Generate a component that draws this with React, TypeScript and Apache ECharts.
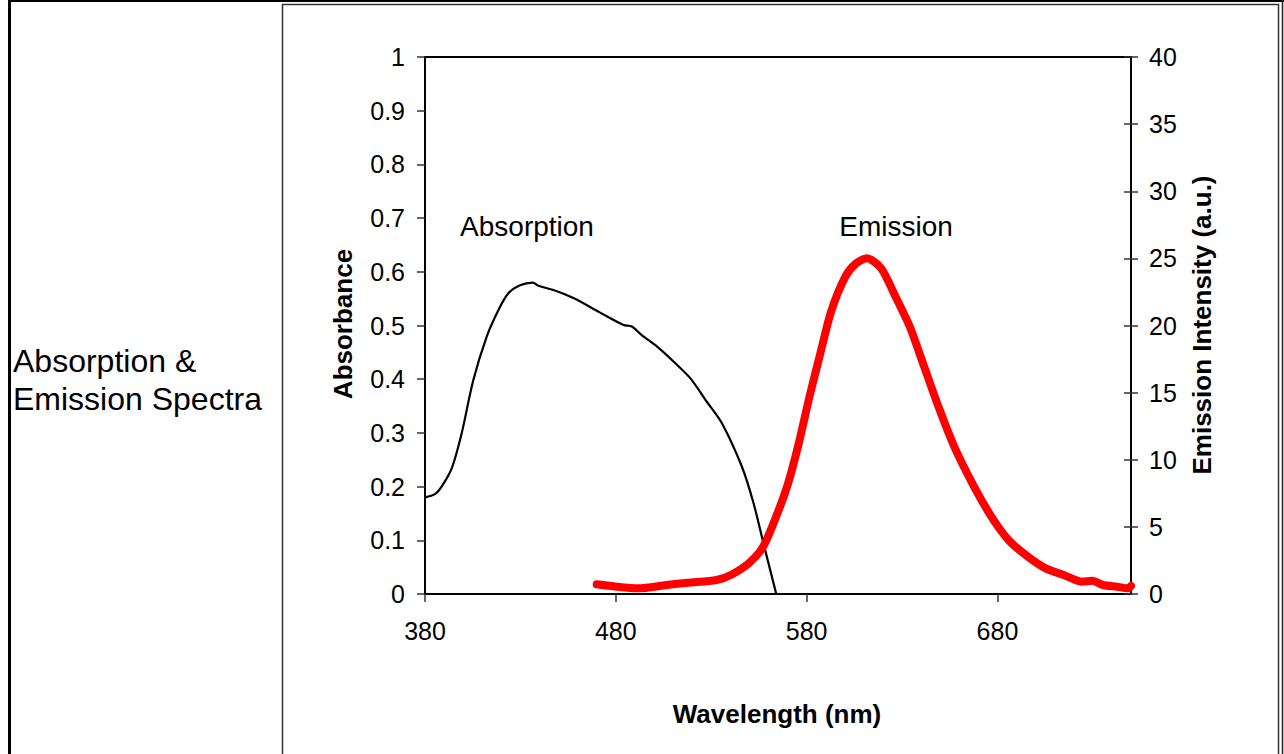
import React, { useEffect, useRef } from "react";
import * as echarts from "echarts";

const FONT = '"Liberation Sans", Arial, Helvetica, sans-serif';

// Absorption spectrum (left axis, absorbance)
const absWavelength = [380, 385.2, 388.7, 394, 399.2, 405.3, 412.3, 418.5, 423.7, 429.8, 436.5, 439.5, 447.3, 457.8, 471.8, 484, 488.4, 493.6, 501.5, 510.2, 519, 527.7, 535.6, 546.1, 552.2, 557.4, 564.1];
const absValues = [0.18, 0.186, 0.2, 0.234, 0.299, 0.398, 0.479, 0.529, 0.56, 0.575, 0.58, 0.574, 0.566, 0.551, 0.524, 0.501, 0.498, 0.482, 0.461, 0.433, 0.402, 0.358, 0.318, 0.237, 0.169, 0.094, 0.0];

// Emission spectrum (right axis, a.u.)
const emWavelength = [470, 480.3, 491.6, 506.6, 517.8, 532.8, 540.3, 549.7, 557.2, 564.7, 570.3, 575.9, 581.5, 587.2, 592.8, 600.3, 605.9, 611.6, 619.1, 626.6, 634.1, 641.6, 649.1, 656.6, 664.1, 671.6, 679.1, 686.6, 696, 705.3, 714.7, 724.1, 729.7, 735.3, 742.8, 748.4, 750];
const emValues = [0.72, 0.54, 0.42, 0.67, 0.84, 1.04, 1.42, 2.29, 3.52, 6.01, 8.25, 11.23, 14.7, 17.93, 21.03, 23.64, 24.63, 25.01, 24.26, 22.15, 19.91, 16.93, 13.95, 11.23, 8.99, 7.0, 5.27, 3.9, 2.78, 1.91, 1.42, 0.92, 0.99, 0.67, 0.54, 0.42, 0.6];

const xTicks = [380, 480, 580, 680];
const leftTitle = ["Absorption &", "Emission Spectra"];

export default function App() {
  const ref = useRef<HTMLDivElement>(null);

  useEffect(() => {
    const chart = echarts.init(ref.current!, null, { renderer: "svg" });
    const tickLabel = { color: "#000", fontSize: 25, fontFamily: FONT };
    const option: any = {
      animation: false,
      backgroundColor: "#fff",
      grid: { left: 425, top: 57, width: 706, height: 537, containLabel: false, show: true, borderColor: "#000", borderWidth: 2, backgroundColor: "transparent" },
      xAxis: {
        type: "value",
        min: 380,
        max: 750,
        interval: 100,
        axisLine: { show: true, lineStyle: { color: "#000", width: 2 } },
        axisTick: { show: true, inside: false, length: 8, customValues: xTicks, lineStyle: { color: "#333", width: 1.5 } },
        axisLabel: { ...tickLabel, margin: 24, customValues: xTicks },
        splitLine: { show: false },
      },
      yAxis: [
        {
          type: "value",
          position: "left",
          min: 0,
          max: 1,
          interval: 0.1,
          axisLine: { show: true, lineStyle: { color: "#000", width: 2 } },
          axisTick: { show: true, inside: false, length: 8, lineStyle: { color: "#333", width: 1.5 } },
          axisLabel: { ...tickLabel, margin: 20, formatter: (v: number) => String(Math.round(v * 10) / 10) },
          splitLine: { show: false },
        },
        {
          type: "value",
          position: "right",
          min: 0,
          max: 40,
          interval: 5,
          axisLine: { show: true, onZero: false, lineStyle: { color: "#000", width: 2 } },
          axisTick: { show: true, inside: false, length: 7, lineStyle: { color: "#333", width: 1.5 } },
          axisLabel: { ...tickLabel, margin: 18 },
          splitLine: { show: false },
        },
        {
          type: "value",
          position: "right",
          min: 0,
          max: 40,
          interval: 5,
          axisLine: { show: false, onZero: false },
          axisTick: { show: true, inside: true, length: 7, lineStyle: { color: "#333", width: 1.5 } },
          axisLabel: { show: false },
          splitLine: { show: false },
        },
      ],
      series: [
        {
          name: "Absorption",
          type: "line",
          yAxisIndex: 0,
          showSymbol: false,
          smooth: 0.3,
          data: absWavelength.map((w, i) => [w, absValues[i]]),
          lineStyle: { color: "#000", width: 2.2 },
          z: 3,
        },
        {
          name: "Emission",
          type: "line",
          yAxisIndex: 1,
          showSymbol: false,
          smooth: 0.25,
          data: emWavelength.map((w, i) => [w, emValues[i]]),
          lineStyle: { color: "#ff0000", width: 8, cap: "round", join: "round" },
          z: 4,
        },
      ],
      graphic: [
        // table borders
        { type: "line", silent: true, shape: { x1: 8, y1: 1, x2: 1284, y2: 1 }, style: { stroke: "#000", lineWidth: 2 } },
        { type: "line", silent: true, shape: { x1: 9.5, y1: 0, x2: 9.5, y2: 754 }, style: { stroke: "#000", lineWidth: 3 } },
        { type: "line", silent: true, shape: { x1: 1282.5, y1: 0, x2: 1282.5, y2: 754 }, style: { stroke: "#222", lineWidth: 1.5 } },
        { type: "rect", silent: true, shape: { x: 282.5, y: 4.5, width: 996, height: 780 }, style: { fill: "none", stroke: "#333", lineWidth: 1.5 } },
        // left cell title
        { type: "text", silent: true, x: 13, y: 361, style: { text: leftTitle[0], font: `32px ${FONT}`, fill: "#000", align: "left", verticalAlign: "middle" } },
        { type: "text", silent: true, x: 13, y: 399, style: { text: leftTitle[1], font: `32px ${FONT}`, fill: "#000", align: "left", verticalAlign: "middle" } },
        // axis titles
        { type: "text", silent: true, x: 343, y: 324, rotation: Math.PI / 2, style: { text: "Absorbance", font: `bold 26px ${FONT}`, fill: "#000", align: "center", verticalAlign: "middle" } },
        { type: "text", silent: true, x: 1202, y: 325, rotation: Math.PI / 2, style: { text: "Emission Intensity (a.u.)", font: `bold 26px ${FONT}`, fill: "#000", align: "center", verticalAlign: "middle" } },
        { type: "text", silent: true, x: 777, y: 714, style: { text: "Wavelength (nm)", font: `bold 26px ${FONT}`, fill: "#000", align: "center", verticalAlign: "middle" } },
        // series annotations
        { type: "text", silent: true, x: 527, y: 226, style: { text: "Absorption", font: `28px ${FONT}`, fill: "#000", align: "center", verticalAlign: "middle" } },
        { type: "text", silent: true, x: 896, y: 226, style: { text: "Emission", font: `28px ${FONT}`, fill: "#000", align: "center", verticalAlign: "middle" } },
      ],
    };
    chart.setOption(option);
    return () => chart.dispose();
  }, []);

  return (
    <div
      ref={ref}
      style={{ position: "absolute", left: 0, top: 0, width: 1284, height: 754, background: "#fff" }}
    />
  );
}
